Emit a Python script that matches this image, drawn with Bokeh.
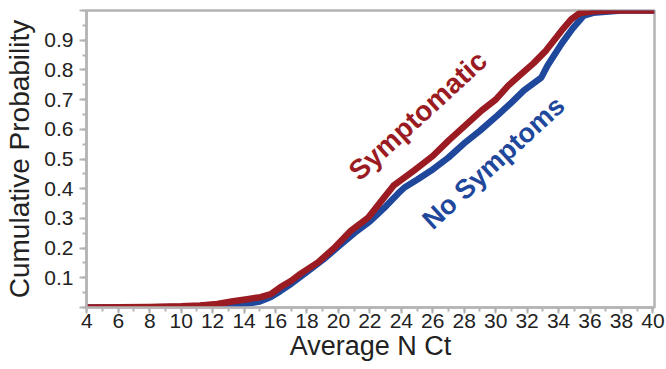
from bokeh.plotting import figure
from bokeh.models import Range1d, FixedTicker
from bokeh.core.properties import value
from bokeh.embed import file_html
from bokeh.resources import INLINE

# Average N Ct values (x) and cumulative probabilities
ct_symptomatic = [4, 6, 8, 10, 11.2, 12.3, 13.3, 14.2, 15.05, 15.7, 16.3, 17, 17.6, 18.7, 19.7, 20.8, 21.9,
                  22.9, 23.5, 24.8, 26, 27, 28, 29.1, 30, 30.8, 31.6, 32.4, 33.2, 34.2, 34.8, 35.3, 35.8,
                  36.5, 37.5, 38.5, 40.1]
p_symptomatic = [0.0, 0.001, 0.002, 0.004, 0.007, 0.012, 0.021, 0.028, 0.035, 0.045, 0.068, 0.09, 0.114,
                 0.152, 0.199, 0.259, 0.303, 0.37, 0.41, 0.461, 0.51, 0.562, 0.61, 0.663, 0.70, 0.747,
                 0.785, 0.822, 0.865, 0.933, 0.97, 0.99, 0.995, 0.998, 1.0, 1.0, 1.0]

ct_no_symptoms = [4, 6, 8, 10, 11.2, 12.3, 13.3, 14.2, 15, 15.7, 16.3, 17, 18, 19, 20, 21, 22, 23, 23.8,
                  24.2, 25, 25.9, 27, 27.98, 29, 30.1, 31, 31.8, 32.9, 33.3, 34.2, 34.9, 35.6, 36.2, 37,
                  38, 40.1]
p_no_symptoms = [0.0, 0.0, 0.001, 0.002, 0.003, 0.005, 0.008, 0.013, 0.02, 0.035, 0.055, 0.08, 0.12, 0.16,
                 0.205, 0.25, 0.29, 0.34, 0.384, 0.404, 0.43, 0.461, 0.505, 0.552, 0.595, 0.646, 0.69,
                 0.731, 0.774, 0.815, 0.889, 0.94, 0.983, 0.992, 0.996, 1.0, 1.0]

x_ticks = list(range(4, 41, 2))
x_minor = list(range(4, 41, 1))
y_ticks = [0.0, 0.1, 0.2, 0.3, 0.4, 0.5, 0.6, 0.7, 0.8, 0.9, 1.0]
y_minor = [i * 0.05 for i in range(0, 21)]

RED = "#9b1b23"
BLUE = "#1f489c"
GRAY = "#b4b4b4"
FONT = "Liberation Sans"

p = figure(width=666, height=369, output_backend="svg", toolbar_location=None,
           x_range=Range1d(3.98, 40.1), y_range=Range1d(0, 1.0),
           min_border_left=86, min_border_right=12, min_border_top=10, min_border_bottom=62)

p.grid.visible = False
p.outline_line_color = GRAY
p.outline_line_width = 2.5
p.background_fill_color = "white"
p.border_fill_color = "white"

p.line(ct_no_symptoms, p_no_symptoms, line_color=BLUE, line_width=6.5, line_join="round")
p.line(ct_symptomatic, p_symptomatic, line_color=RED, line_width=6.5, line_join="round")

p.text(x=[25.05], y=[0.646], text=["Symptomatic"], angle=0.742, text_color=RED,
       text_font=value(FONT), text_font_style="bold", text_font_size="28px",
       text_align="center", text_baseline="middle")
p.text(x=[29.86], y=[0.487], text=["No Symptoms"], angle=0.742, text_color=BLUE,
       text_font=value(FONT), text_font_style="bold", text_font_size="27px",
       text_align="center", text_baseline="middle")

xa = p.xaxis[0]
xa.ticker = FixedTicker(ticks=x_ticks, minor_ticks=x_minor)
xa.axis_label = "Average N Ct"
ya = p.yaxis[0]
ya.ticker = FixedTicker(ticks=y_ticks, minor_ticks=y_minor)
ya.major_label_overrides = {0.0: "", 1.0: ""}
ya.axis_label = "Cumulative Probability"

for ax in (xa, ya):
    ax.axis_line_color = GRAY
    ax.axis_line_width = 2.5
    ax.major_tick_line_color = GRAY
    ax.minor_tick_line_color = GRAY
    ax.major_tick_line_width = 2
    ax.minor_tick_line_width = 2
    ax.major_tick_in = 0
    ax.minor_tick_out = 4
    ax.minor_tick_in = 0
    ax.major_label_text_font = FONT
    ax.major_label_text_font_size = "21px"
    ax.major_label_text_color = "#222222"
    ax.axis_label_text_font = FONT
    ax.axis_label_text_font_style = "normal"
    ax.axis_label_text_color = "#222222"

xa.major_tick_out = 6
xa.major_label_standoff = 0
xa.axis_label_standoff = 0
xa.axis_label_text_font_size = "27px"
ya.major_tick_out = 7
ya.major_label_standoff = 6
ya.axis_label_standoff = 6
ya.axis_label_text_font_size = "28px"

open("out.html", "w").write(file_html(p, INLINE))
